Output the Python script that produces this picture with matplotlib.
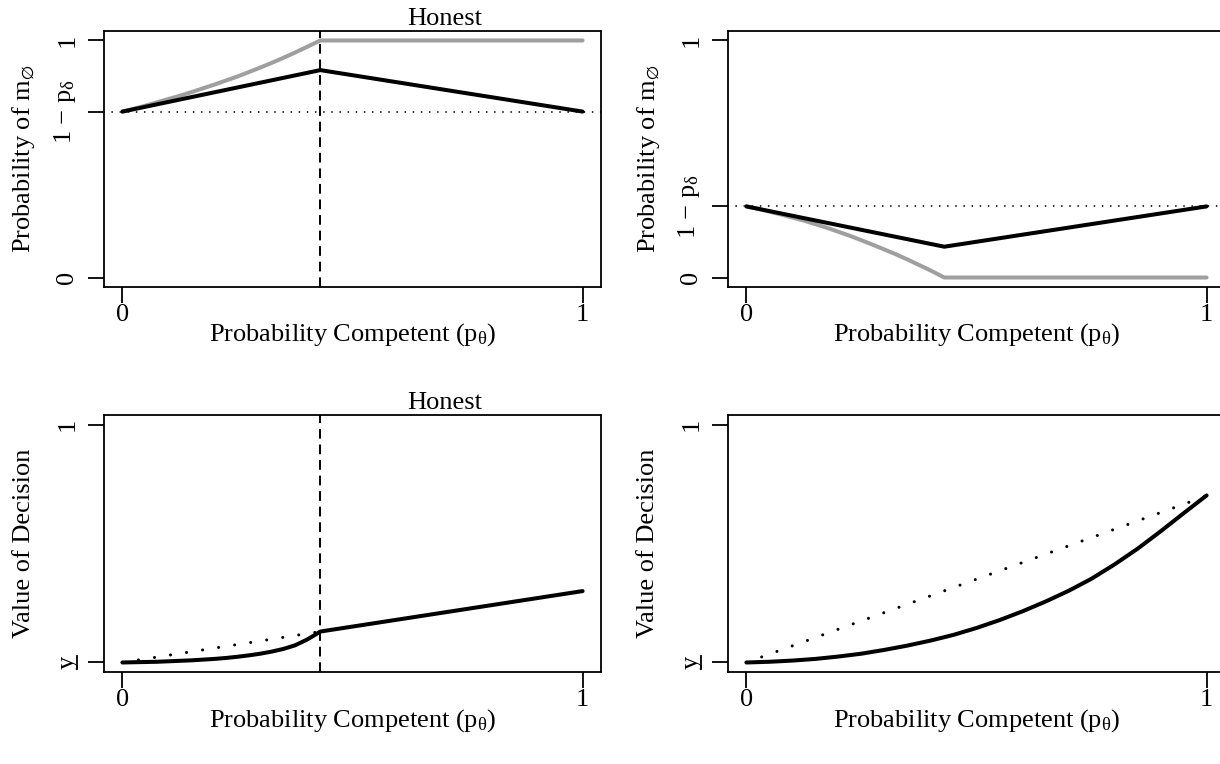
import matplotlib
matplotlib.use("Agg")
import matplotlib.pyplot as plt
from matplotlib.lines import Line2D
from matplotlib.transforms import ScaledTranslation

plt.rcParams['font.family'] = ['Liberation Serif', 'DejaVu Serif']
plt.rcParams['mathtext.fontset'] = 'custom'
plt.rcParams['mathtext.rm'] = 'Liberation Serif'
plt.rcParams['mathtext.it'] = 'Liberation Serif:italic'
plt.rcParams['mathtext.fallback'] = 'stix'

# ---------------- data ----------------
kink = 0.43

# top-left (Honest)
tl_black_p = [0, 0.43, 1]
tl_black_v = [0.70, 0.875, 0.70]
tl_gray_p = [0, .025, .05, .075, .1, .125, .15, .175, .2, .225, .25, .275, .3,
             .325, .35, .375, .4, .43, 1]
tl_gray_v = [0.700, 0.712, 0.725, 0.739, 0.753, 0.767, 0.782, 0.798, 0.814, 0.831,
             0.848, 0.867, 0.886, 0.906, 0.927, 0.949, 0.972, 1.0, 1.0]
tl_ref = 0.70

# top-right
tr_black_p = [0, 0.43, 1]
tr_black_v = [0.30, 0.13, 0.30]
tr_gray_p = [0, .025, .05, .075, .1, .125, .15, .175, .2, .225, .25, .275, .3,
             .325, .35, .375, .4, .43, 1]
tr_gray_v = [0.300, 0.290, 0.278, 0.266, 0.253, 0.240, 0.225, 0.210, 0.193, 0.176,
             0.157, 0.138, 0.118, 0.098, 0.076, 0.053, 0.030, 0.0, 0.0]
tr_ref = 0.30

# bottom-left (Honest)
bl_p = [0, .025, .05, .075, .1, .125, .15, .175, .2, .225, .25, .275, .3,
        .325, .35, .375, .4, .415, .43, 1]
bl_v = [0, .001, .002, .003, .005, .007, .009, .012, .015, .019, .024, .030, .037,
        .046, .057, .072, .095, .112, .130, .300]
bl_dot_p = [0, 0.43]
bl_dot_v = [0, 0.13]

# bottom-right
br_p = [0, .05, .1, .15, .2, .25, .3, .35, .4, .45, .5, .55, .6, .65, .7,
        .75, .8, .85, .9, .95, 1.0]
br_v = [0, .003, .008, .015, .025, .037, .053, .071, .092, .116, .145, .178, .215,
        .256, .301, .352, .412, .478, .551, .627, .702]
br_dot_p = [0, 1]
br_dot_v = [0, 0.70]

xticks = [0, 1]
xticklabels = ['0', '1']
xlabel = 'Probability Competent (p$_{\\mathrm{θ}}$)'
ylabel_top = 'Probability of m$_{\\mathrm{∅}}$'
ylabel_bot = 'Value of Decision'
title = 'Honest'

# ---------------- figure ----------------
W, H = 1220, 764
DPI = 100
fig = plt.figure(figsize=(W / DPI, H / DPI), dpi=DPI)

FS = 19
LW_BOX = 1.3
CURVE_LW = 2.9
GRAY = '#9f9f9f'


def make_ax(x0, y0top, y0bot):
    left = x0 / W
    width = 497 / W
    bottom = 1 - y0bot / H
    height = (y0bot - y0top) / H
    ax = fig.add_axes([left, bottom, width, height])
    ax.set_xlim(-0.04, 1.04)
    ax.set_ylim(-0.04, 1.04)
    for s in ax.spines.values():
        s.set_linewidth(LW_BOX)
    ax.tick_params(axis='both', length=11.5, width=LW_BOX, labelsize=FS, direction='out')
    ax.tick_params(axis='y', pad=7)
    ax.tick_params(axis='x', pad=0.5)
    ax.set_xticks(xticks)
    ax.set_xticklabels(xticklabels)
    ax.set_xlabel(xlabel, fontsize=FS, va='center')
    ax.xaxis.set_label_coords(0.5, -48 / 256)
    return ax


def set_yticks(ax, ticks, labels):
    ax.set_yticks(ticks)
    ax.set_yticklabels(labels, rotation=90, va='center')


def ylab(ax, text):
    ax.set_ylabel(text, fontsize=FS, va='center')
    ax.yaxis.set_label_coords(-80 / 497, 0.5)


def hdotted(ax, y):
    ax.axhline(y, color='black', lw=1.3, linestyle=(0, (0.01, 4.5)),
               dash_capstyle='round', zorder=1)


def vdashed(ax, x):
    ax.axvline(x, color='black', lw=1.4, linestyle=(0, (5, 3)), zorder=4)


def honest(ax):
    ax.text(0.70, 1.023, title, transform=ax.get_xaxis_transform(),
            ha='center', va='baseline', fontsize=FS)


def ybar_label(ax):
    # underlined "y" tick label at value 0 (rotated like the other y labels)
    base = ax.get_yaxis_transform()
    tr_txt = base + ScaledTranslation(-36 / DPI, 0, fig.dpi_scale_trans)
    ax.text(0, 0, 'y', transform=tr_txt, rotation=90, ha='center', va='center',
            fontsize=FS, clip_on=False)
    tr_line = base + ScaledTranslation(-27 / DPI, 0, fig.dpi_scale_trans)
    off = 6.5 / 237 * 1.0
    ax.add_line(Line2D([0, 0], [-off, off], transform=tr_line, color='black',
                       lw=1.3, clip_on=False))


# top-left
ax = make_ax(104, 31, 287)
set_yticks(ax, [0, tl_ref, 1], ['0', '1 − p$_{\\mathrm{δ}}$', '1'])
hdotted(ax, tl_ref)
ax.plot(tl_gray_p, tl_gray_v, color=GRAY, lw=CURVE_LW, solid_capstyle='round', zorder=2)
ax.plot(tl_black_p, tl_black_v, color='black', lw=CURVE_LW, solid_capstyle='round', zorder=3)
vdashed(ax, kink)
ylab(ax, ylabel_top)
honest(ax)

# top-right
ax = make_ax(728, 31, 287)
set_yticks(ax, [0, tr_ref, 1], ['0', '1 − p$_{\\mathrm{δ}}$', '1'])
hdotted(ax, tr_ref)
ax.plot(tr_gray_p, tr_gray_v, color=GRAY, lw=CURVE_LW, solid_capstyle='round', zorder=2)
ax.plot(tr_black_p, tr_black_v, color='black', lw=CURVE_LW, solid_capstyle='round', zorder=3)
ylab(ax, ylabel_top)

# bottom-left
ax = make_ax(104, 415, 672)
set_yticks(ax, [0, 1], ['', '1'])
ybar_label(ax)
ax.plot(bl_dot_p, bl_dot_v, color='black', lw=2.2, linestyle=(0, (0.01, 5.3)),
        dash_capstyle='round', zorder=2)
ax.plot(bl_p, bl_v, color='black', lw=CURVE_LW, solid_capstyle='round', zorder=3)
vdashed(ax, kink)
ylab(ax, ylabel_bot)
honest(ax)

# bottom-right
ax = make_ax(728, 415, 672)
set_yticks(ax, [0, 1], ['', '1'])
ybar_label(ax)
ax.plot(br_dot_p, br_dot_v, color='black', lw=2.2, linestyle=(0, (0.01, 5.3)),
        dash_capstyle='round', zorder=2)
ax.plot(br_p, br_v, color='black', lw=CURVE_LW, solid_capstyle='round', zorder=3)
ylab(ax, ylabel_bot)

fig.savefig('out.png', dpi=DPI)
